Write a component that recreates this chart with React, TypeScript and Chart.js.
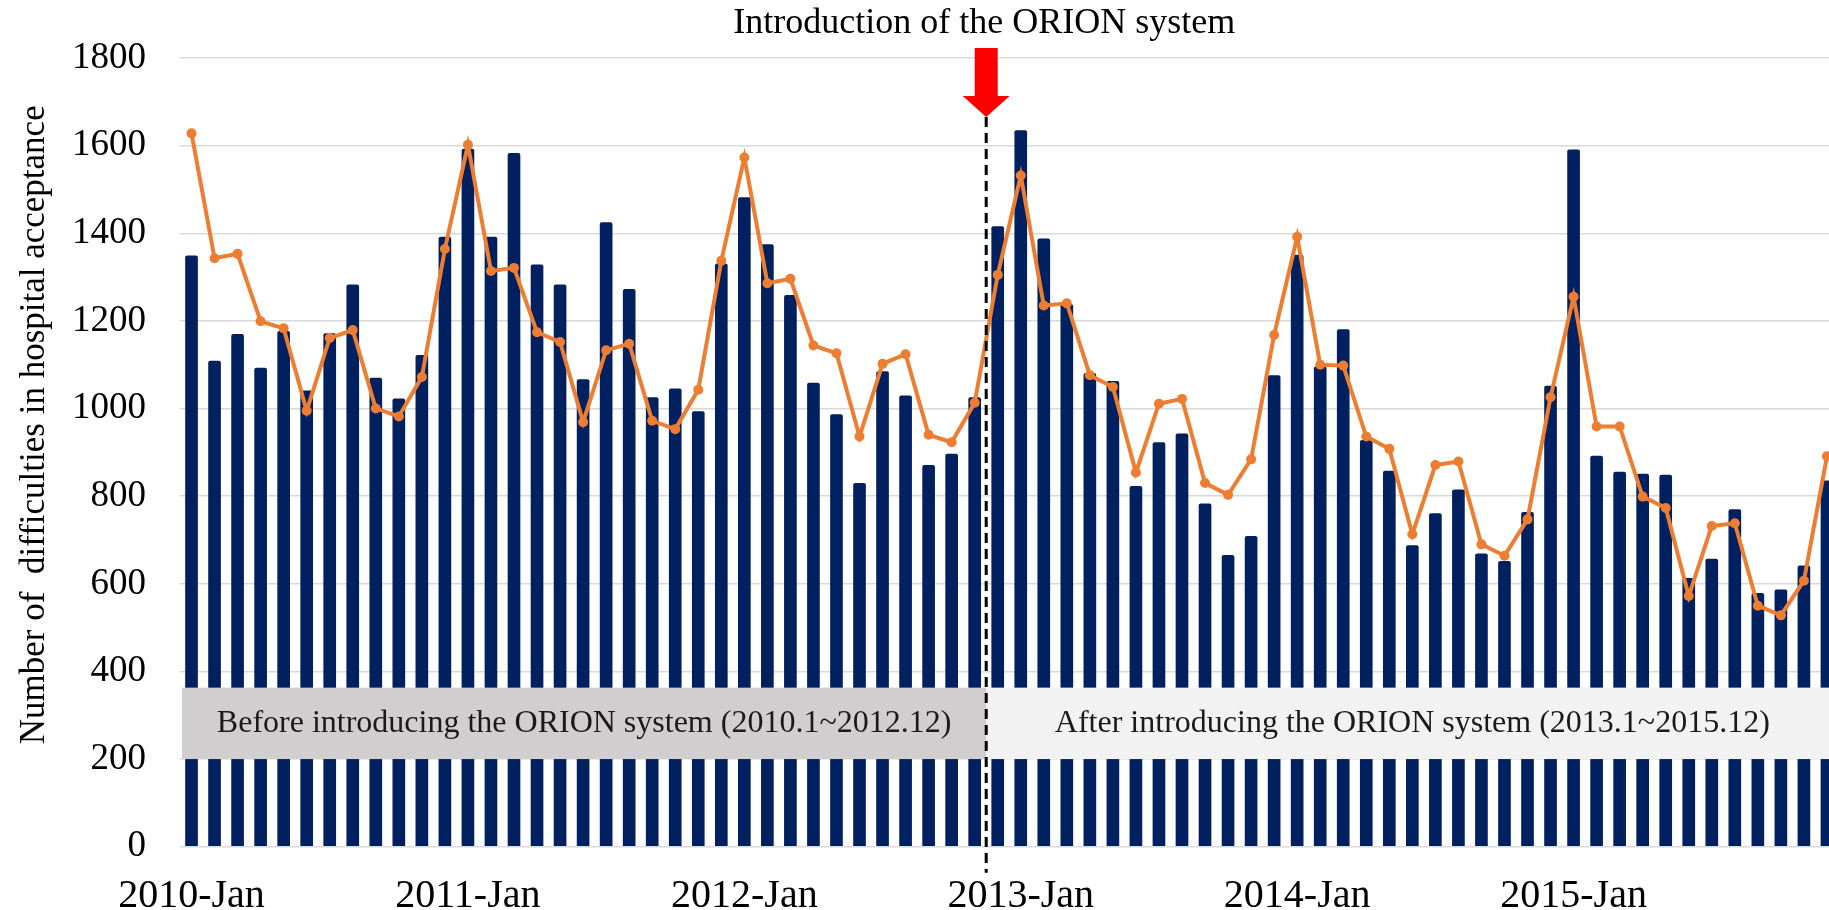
import React, { useEffect, useRef } from "react";
import { Chart, registerables } from "chart.js";

Chart.register(...registerables);

const YEARS = ["2010", "2011", "2012", "2013", "2014", "2015"];
const MONTHS = ["Jan", "Feb", "Mar", "Apr", "May", "Jun", "Jul", "Aug", "Sep", "Oct", "Nov", "Dec"];
const CATEGORIES = YEARS.flatMap((y) => MONTHS.map((m) => `${y}-${m}`));

const BAR_VALUES = [
  1349, 1109, 1170, 1093, 1177, 1041, 1172, 1283, 1070, 1023, 1122, 1392,
  1593, 1392, 1583, 1329, 1283, 1067, 1425, 1273, 1026, 1046, 994, 1331,
  1482, 1375, 1259, 1059, 987, 830, 1085, 1030, 871, 897, 1026, 1416,
  1635, 1388, 1238, 1081, 1063, 823, 923, 943, 783, 666, 709, 1076,
  1351, 1096, 1181, 928, 858, 688, 761, 815, 669, 652, 764, 1052,
  1591, 892, 856, 851, 849, 613, 657, 770, 579, 587, 642, 836,
];

const LINE_VALUES = [
  1628, 1343, 1353, 1199, 1183, 995, 1161, 1179, 1000, 982, 1072, 1364,
  1602, 1314, 1321, 1174, 1152, 969, 1133, 1148, 972, 953, 1043, 1337,
  1573, 1286, 1296, 1144, 1126, 936, 1102, 1124, 940, 923, 1013, 1305,
  1532, 1235, 1240, 1076, 1049, 854, 1011, 1022, 830, 803, 884, 1168,
  1392, 1100, 1098, 936, 908, 713, 871, 879, 690, 664, 747, 1026,
  1255, 959, 959, 799, 773, 572, 732, 738, 550, 528, 607, 891,
];

const Y_MIN = 0;
const Y_MAX = 1800;
const Y_STEP = 200;

const TOP_TITLE = "Introduction of the ORION system";
const Y_TITLE = "Number of  difficulties in hospital acceptance";
const BEFORE_TEXT = "Before introducing the ORION system (2010.1~2012.12)";
const AFTER_TEXT = "After introducing the ORION system (2013.1~2015.12)";
// boundary between the two periods lies between these two category indices (as drawn in the original)
const SPLIT_AFTER_INDEX = 34;
// value band covered by the period boxes
const BOX_LOW = 200;
const BOX_HIGH = 363;

const FONT = "'Liberation Serif', 'Times New Roman', serif";
const NAVY = "#002060";
const ORANGE = "#ED7D31";

const annotationPlugin = {
  id: "orionAnnotations",
  afterDatasetsDraw(chart: any) {
    const { ctx, chartArea, scales } = chart;
    const x = scales.x;
    const y = scales.y;
    const splitX = (x.getPixelForValue(SPLIT_AFTER_INDEX) + x.getPixelForValue(SPLIT_AFTER_INDEX + 1)) / 2;
    const yTop = y.getPixelForValue(BOX_HIGH);
    const yBot = y.getPixelForValue(BOX_LOW);
    const left = chartArea.left + 2;
    const right = chartArea.right;

    ctx.save();
    // period boxes
    ctx.fillStyle = "#D0CECE";
    ctx.fillRect(left, yTop, splitX - left, yBot - yTop);
    ctx.fillStyle = "#F2F2F2";
    ctx.fillRect(splitX, yTop, right - splitX, yBot - yTop);

    ctx.fillStyle = "#1a1a1a";
    ctx.font = `32px ${FONT}`;
    ctx.textAlign = "center";
    ctx.textBaseline = "middle";
    const midY = (yTop + yBot) / 2;
    ctx.fillText(BEFORE_TEXT, (left + splitX) / 2, midY);
    ctx.fillText(AFTER_TEXT, (splitX + right) / 2, midY);

    // dashed line
    const arrowTip = chartArea.top + 59;
    ctx.strokeStyle = "#000";
    ctx.lineWidth = 3;
    ctx.setLineDash([10, 6]);
    ctx.beginPath();
    ctx.moveTo(splitX, arrowTip);
    ctx.lineTo(splitX, chartArea.bottom + 26);
    ctx.stroke();
    ctx.setLineDash([]);

    // red arrow
    const shaftTop = chartArea.top - 10;
    const headBase = chartArea.top + 38;
    const shaftHalf = 11.5;
    const headHalf = 23.5;
    ctx.fillStyle = "#FF0000";
    ctx.beginPath();
    ctx.moveTo(splitX - shaftHalf, shaftTop);
    ctx.lineTo(splitX + shaftHalf, shaftTop);
    ctx.lineTo(splitX + shaftHalf, headBase);
    ctx.lineTo(splitX + headHalf, headBase);
    ctx.lineTo(splitX, arrowTip);
    ctx.lineTo(splitX - headHalf, headBase);
    ctx.lineTo(splitX - shaftHalf, headBase);
    ctx.closePath();
    ctx.fill();

    // top title
    ctx.fillStyle = "#000";
    ctx.font = `36px ${FONT}`;
    ctx.textAlign = "center";
    ctx.textBaseline = "alphabetic";
    ctx.fillText(TOP_TITLE, splitX - 2, 33);

    // y-axis title (rotated)
    ctx.translate(35, chartArea.top + (chartArea.bottom - chartArea.top) * 0.465);
    ctx.rotate(-Math.PI / 2);
    ctx.font = `35px ${FONT}`;
    ctx.textAlign = "center";
    ctx.textBaseline = "middle";
    ctx.fillText(Y_TITLE, 0, 0);
    ctx.restore();
  },
};

export default function App() {
  const canvasRef = useRef<HTMLCanvasElement | null>(null);

  useEffect(() => {
    if (!canvasRef.current) return;
    const chart = new Chart(canvasRef.current, {
      type: "bar",
      data: {
        labels: CATEGORIES,
        datasets: [
          {
            type: "line",
            data: LINE_VALUES,
            borderColor: ORANGE,
            backgroundColor: ORANGE,
            borderWidth: 4,
            pointRadius: 5,
            pointBackgroundColor: ORANGE,
            pointBorderWidth: 0,
            tension: 0,
            order: 0,
          } as any,
          {
            type: "bar",
            data: BAR_VALUES,
            backgroundColor: NAVY,
            categoryPercentage: 1,
            barPercentage: 0.55,
            borderRadius: 2,
            borderSkipped: "bottom",
            order: 1,
          } as any,
        ],
      },
      options: {
        responsive: false,
        animation: false,
        layout: { padding: { left: 0, right: 6, top: 58, bottom: 0 } },
        plugins: {
          legend: { display: false },
          tooltip: { enabled: false },
          title: { display: false },
        },
        scales: {
          x: {
            grid: { display: false },
            border: { display: false },
            ticks: {
              autoSkip: false,
              maxRotation: 0,
              minRotation: 0,
              padding: 18,
              color: "#000",
              font: { family: FONT, size: 40 },
              callback: (_v: any, i: number) => (i % 12 === 0 ? CATEGORIES[i] : ""),
            },
            afterFit: (s: any) => {
              s.height = 63.3;
            },
          },
          y: {
            min: Y_MIN,
            max: Y_MAX,
            border: { display: false },
            grid: { color: "#D9D9D9", lineWidth: 1.5, drawTicks: false },
            ticks: {
              stepSize: Y_STEP,
              padding: 34,
              color: "#000",
              font: { family: FONT, size: 37 },
              callback: (v: any) => String(v),
            },
            title: { display: false },
            afterFit: (s: any) => {
              s.width = 180;
            },
          },
        },
      },
      plugins: [annotationPlugin],
    });
    return () => chart.destroy();
  }, []);

  return (
    <div
      style={{
        position: "fixed",
        left: 0,
        top: 0,
        width: "100vw",
        height: "100vh",
        overflow: "hidden",
        background: "#fff",
      }}
    >
      <canvas ref={canvasRef} width={1845} height={910} style={{ display: "block" }} />
    </div>
  );
}
